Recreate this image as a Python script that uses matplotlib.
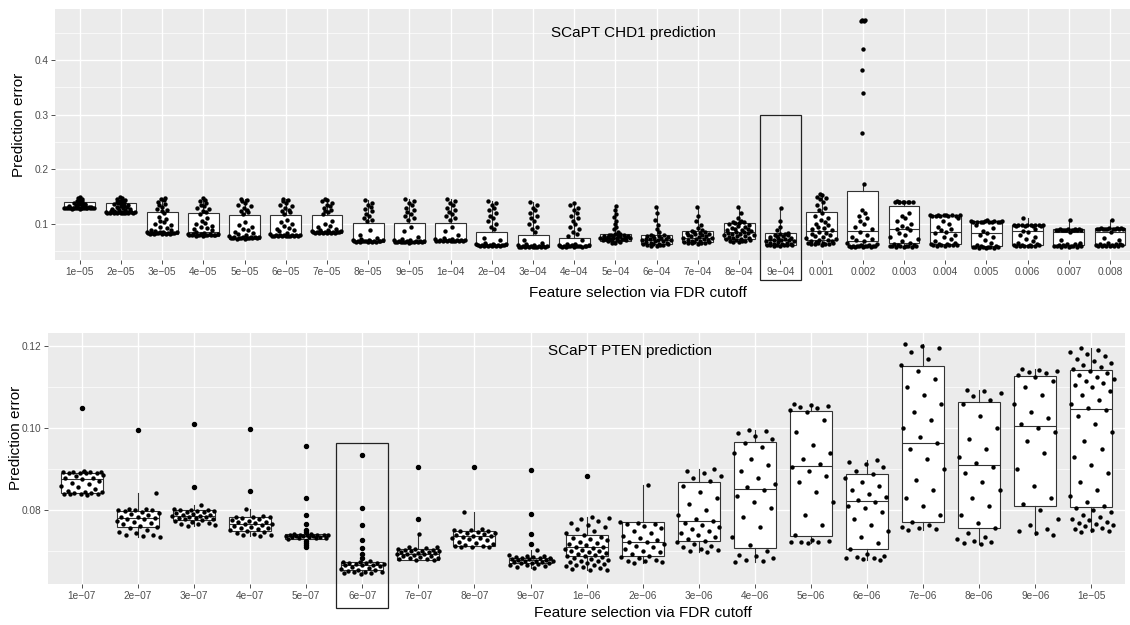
import numpy as np
import matplotlib
matplotlib.use('Agg')
import matplotlib.pyplot as plt
from matplotlib.patches import Rectangle

plt.rcParams['font.family'] = ['Liberation Sans', 'DejaVu Sans']

# ---- top panel: SCaPT CHD1 ----
top_labels = ['1e\u221205', '2e\u221205', '3e\u221205', '4e\u221205', '5e\u221205', '6e\u221205', '7e\u221205',
              '8e\u221205', '9e\u221205', '1e\u221204', '2e\u221204', '3e\u221204', '4e\u221204', '5e\u221204',
              '6e\u221204', '7e\u221204', '8e\u221204', '9e\u221204', '0.001', '0.002', '0.003', '0.004',
              '0.005', '0.006', '0.007', '0.008']
top_q1 = [.1287, .1196, .0815, .0780, .0730, .0770, .0830, .0677, .0660, .0680, .0600, .0574, .0585,
          .0695, .0634, .0677, .0720, .0616, .0707, .0680, .0647, .0630, .0600, .0616, .0616, .0616]
top_med = [.1305, .1225, .0845, .0855, .0750, .0790, .0860, .0690, .0690, .0700, .0620, .0590, .0600,
           .0750, .0710, .0750, .0850, .0700, .0878, .0872, .0900, .0854, .0830, .0870, .0850, .0850]
top_q3 = [.1405, .1378, .1214, .1196, .1165, .1165, .1168, .1024, .1010, .1010, .0860, .0800, .0750,
          .0810, .0790, .0870, .1020, .0830, .1214, .1610, .1330, .1165, .1055, .0980, .0900, .0920]
top_lo = [.1280, .1195, .0815, .0785, .0730, .0770, .0830, .0670, .0660, .0680, .0595, .0570, .0580,
          .0650, .0600, .0640, .0670, .0600, .0620, .0580, .0580, .0600, .0560, .0590, .0580, .0590]
top_hi = [.1490, .1488, .1480, .1470, .1460, .1460, .1460, .1430, .1450, .1450, .1420, .1400, .1380,
          .1335, .1317, .1310, .1310, .1287, .1540, .1730, .1410, .1165, .1075, .1100, .1070, .1065]
top_points = [
    [0.1280, 0.1281, 0.1282, 0.1283, 0.1284, 0.1285, 0.1286, 0.1287, 0.1288, 0.1289, 0.1290, 0.1291, 0.1292,
     0.1293, 0.1294, 0.1295, 0.1297, 0.1299, 0.1301, 0.1303, 0.1306, 0.1310, 0.1315, 0.1320, 0.1328, 0.1335,
     0.1343, 0.1350, 0.1358, 0.1365, 0.1373, 0.1380, 0.1390, 0.1400, 0.1410, 0.1420, 0.1432, 0.1445, 0.1460,
     0.1475, 0.1490],
    [0.1195, 0.1197, 0.1199, 0.1200, 0.1202, 0.1203, 0.1205, 0.1206, 0.1208, 0.1210, 0.1212, 0.1214, 0.1216,
     0.1218, 0.1220, 0.1223, 0.1226, 0.1230, 0.1236, 0.1242, 0.1250, 0.1258, 0.1266, 0.1275, 0.1285, 0.1295,
     0.1305, 0.1315, 0.1325, 0.1335, 0.1345, 0.1355, 0.1365, 0.1375, 0.1385, 0.1395, 0.1410, 0.1425, 0.1440,
     0.1455, 0.1470, 0.1488],
    [0.0815, 0.0818, 0.0820, 0.0822, 0.0824, 0.0826, 0.0828, 0.0830, 0.0832, 0.0834, 0.0836, 0.0838, 0.0840,
     0.0843, 0.0846, 0.0850, 0.0856, 0.0865, 0.0880, 0.0895, 0.0925, 0.0950, 0.0975, 0.1000, 0.1030, 0.1060,
     0.1090, 0.1120, 0.1200, 0.1230, 0.1260, 0.1280, 0.1310, 0.1340, 0.1370, 0.1400, 0.1430, 0.1460, 0.1480],
    [0.0785, 0.0788, 0.0790, 0.0792, 0.0794, 0.0796, 0.0798, 0.0800, 0.0802, 0.0804, 0.0806, 0.0808, 0.0810,
     0.0813, 0.0816, 0.0820, 0.0830, 0.0850, 0.0880, 0.0900, 0.0920, 0.0940, 0.0960, 0.0990, 0.1020, 0.1060,
     0.1100, 0.1180, 0.1210, 0.1240, 0.1270, 0.1290, 0.1320, 0.1350, 0.1380, 0.1410, 0.1440, 0.1470],
    [0.0730, 0.0733, 0.0736, 0.0738, 0.0740, 0.0742, 0.0744, 0.0746, 0.0748, 0.0750, 0.0752, 0.0754, 0.0757,
     0.0760, 0.0765, 0.0775, 0.0790, 0.0810, 0.0830, 0.0850, 0.0880, 0.0910, 0.0940, 0.0980, 0.1040, 0.1180,
     0.1210, 0.1240, 0.1260, 0.1290, 0.1320, 0.1350, 0.1380, 0.1410, 0.1440, 0.1460],
    [0.0770, 0.0773, 0.0776, 0.0778, 0.0780, 0.0782, 0.0784, 0.0786, 0.0788, 0.0790, 0.0792, 0.0794, 0.0797,
     0.0800, 0.0805, 0.0815, 0.0840, 0.0870, 0.0890, 0.0910, 0.0930, 0.0960, 0.0990, 0.1030, 0.1080, 0.1180,
     0.1210, 0.1240, 0.1260, 0.1290, 0.1320, 0.1350, 0.1380, 0.1410, 0.1440, 0.1460],
    [0.0830, 0.0833, 0.0836, 0.0838, 0.0840, 0.0842, 0.0844, 0.0846, 0.0848, 0.0850, 0.0852, 0.0855, 0.0858,
     0.0861, 0.0865, 0.0872, 0.0880, 0.0890, 0.0910, 0.0940, 0.0970, 0.1000, 0.1050, 0.1180, 0.1210, 0.1240,
     0.1260, 0.1290, 0.1320, 0.1350, 0.1380, 0.1410, 0.1440, 0.1460],
    [0.0670, 0.0672, 0.0674, 0.0676, 0.0678, 0.0680, 0.0682, 0.0684, 0.0686, 0.0688, 0.0690, 0.0692, 0.0694,
     0.0696, 0.0698, 0.0700, 0.0705, 0.0720, 0.0750, 0.0800, 0.0890, 0.1050, 0.1080, 0.1110, 0.1150, 0.1190,
     0.1230, 0.1270, 0.1310, 0.1350, 0.1390, 0.1430],
    [0.0660, 0.0662, 0.0664, 0.0666, 0.0668, 0.0670, 0.0672, 0.0674, 0.0676, 0.0678, 0.0680, 0.0683, 0.0686,
     0.0690, 0.0694, 0.0698, 0.0705, 0.0720, 0.0760, 0.0870, 0.0950, 0.1080, 0.1110, 0.1150, 0.1190, 0.1220,
     0.1260, 0.1300, 0.1340, 0.1380, 0.1420, 0.1450],
    [0.0680, 0.0682, 0.0684, 0.0686, 0.0688, 0.0690, 0.0692, 0.0694, 0.0696, 0.0698, 0.0700, 0.0703, 0.0706,
     0.0710, 0.0714, 0.0720, 0.0730, 0.0750, 0.0800, 0.0870, 0.0950, 0.1080, 0.1110, 0.1150, 0.1190, 0.1220,
     0.1260, 0.1300, 0.1340, 0.1380, 0.1420, 0.1450],
    [0.0595, 0.0597, 0.0599, 0.0601, 0.0603, 0.0605, 0.0607, 0.0609, 0.0611, 0.0613, 0.0615, 0.0617, 0.0620,
     0.0623, 0.0627, 0.0632, 0.0640, 0.0660, 0.0700, 0.0750, 0.0900, 0.0950, 0.1000, 0.1050, 0.1100, 0.1150,
     0.1200, 0.1250, 0.1300, 0.1350, 0.1390, 0.1420],
    [0.0570, 0.0572, 0.0574, 0.0576, 0.0578, 0.0580, 0.0582, 0.0584, 0.0586, 0.0588, 0.0590, 0.0592, 0.0595,
     0.0598, 0.0602, 0.0608, 0.0615, 0.0630, 0.0660, 0.0700, 0.0850, 0.0900, 0.0950, 0.1000, 0.1050, 0.1100,
     0.1150, 0.1200, 0.1250, 0.1300, 0.1350, 0.1400],
    [0.0580, 0.0582, 0.0584, 0.0586, 0.0588, 0.0590, 0.0592, 0.0594, 0.0596, 0.0598, 0.0600, 0.0602, 0.0605,
     0.0608, 0.0612, 0.0618, 0.0625, 0.0640, 0.0700, 0.0780, 0.0820, 0.0860, 0.0900, 0.0950, 0.1000, 0.1050,
     0.1100, 0.1150, 0.1200, 0.1250, 0.1300, 0.1340, 0.1380],
    [0.0650, 0.0660, 0.0670, 0.0680, 0.0690, 0.0695, 0.0700, 0.0705, 0.0710, 0.0715, 0.0720, 0.0725, 0.0730,
     0.0735, 0.0740, 0.0745, 0.0750, 0.0755, 0.0760, 0.0765, 0.0770, 0.0775, 0.0780, 0.0785, 0.0790, 0.0795,
     0.0800, 0.0805, 0.0810, 0.0820, 0.0860, 0.0900, 0.0950, 0.1000, 0.1060, 0.1120, 0.1180, 0.1250, 0.1335],
    [0.0600, 0.0605, 0.0610, 0.0615, 0.0620, 0.0625, 0.0630, 0.0635, 0.0640, 0.0650, 0.0660, 0.0670, 0.0680,
     0.0690, 0.0700, 0.0705, 0.0710, 0.0715, 0.0720, 0.0730, 0.0740, 0.0750, 0.0760, 0.0770, 0.0780, 0.0785,
     0.0790, 0.0800, 0.0850, 0.0900, 0.0980, 0.1080, 0.1200, 0.1317],
    [0.0640, 0.0645, 0.0650, 0.0655, 0.0660, 0.0665, 0.0670, 0.0675, 0.0680, 0.0690, 0.0700, 0.0710, 0.0720,
     0.0730, 0.0740, 0.0750, 0.0760, 0.0770, 0.0780, 0.0790, 0.0800, 0.0810, 0.0820, 0.0830, 0.0840, 0.0850,
     0.0860, 0.0870, 0.0880, 0.0920, 0.0980, 0.1050, 0.1150, 0.1310],
    [0.0670, 0.0675, 0.0680, 0.0685, 0.0690, 0.0700, 0.0710, 0.0720, 0.0730, 0.0740, 0.0750, 0.0760, 0.0770,
     0.0780, 0.0790, 0.0800, 0.0810, 0.0820, 0.0830, 0.0840, 0.0850, 0.0860, 0.0870, 0.0880, 0.0890, 0.0900,
     0.0910, 0.0920, 0.0940, 0.0960, 0.0980, 0.1000, 0.1010, 0.1020, 0.1030, 0.1040, 0.1050, 0.1100, 0.1200,
     0.1310],
    [0.0600, 0.0603, 0.0606, 0.0609, 0.0612, 0.0615, 0.0618, 0.0621, 0.0625, 0.0630, 0.0640, 0.0650, 0.0660,
     0.0670, 0.0680, 0.0690, 0.0700, 0.0705, 0.0710, 0.0720, 0.0730, 0.0740, 0.0750, 0.0760, 0.0770, 0.0780,
     0.0790, 0.0800, 0.0810, 0.0820, 0.0830, 0.0880, 0.0950, 0.1050, 0.1287],
    [0.0620, 0.0625, 0.0630, 0.0635, 0.0640, 0.0645, 0.0650, 0.0655, 0.0660, 0.0670, 0.0680, 0.0690, 0.0700,
     0.0710, 0.0720, 0.0740, 0.0760, 0.0780, 0.0800, 0.0820, 0.0840, 0.0860, 0.0880, 0.0900, 0.0920, 0.0950,
     0.0980, 0.1000, 0.1030, 0.1070, 0.1110, 0.1150, 0.1200, 0.1250, 0.1300, 0.1350, 0.1400, 0.1450, 0.1480,
     0.1500, 0.1520, 0.1540],
    [0.0580, 0.0582, 0.0584, 0.0586, 0.0588, 0.0590, 0.0592, 0.0594, 0.0596, 0.0598, 0.0600, 0.0605, 0.0610,
     0.0620, 0.0640, 0.0660, 0.0680, 0.0700, 0.0720, 0.0760, 0.0800, 0.0850, 0.0900, 0.0950, 0.1000, 0.1050,
     0.1100, 0.1150, 0.1200, 0.1250, 0.1730, 0.2660, 0.3400, 0.3820, 0.4200, 0.4715, 0.4718, 0.4720, 0.4722],
    [0.0580, 0.0583, 0.0586, 0.0589, 0.0592, 0.0595, 0.0598, 0.0601, 0.0605, 0.0610, 0.0620, 0.0635, 0.0650,
     0.0680, 0.0720, 0.0760, 0.0800, 0.0840, 0.0880, 0.0900, 0.0920, 0.0960, 0.1000, 0.1050, 0.1100, 0.1150,
     0.1200, 0.1400, 0.1402, 0.1403, 0.1404, 0.1405, 0.1406, 0.1407, 0.1408, 0.1410],
    [0.0600, 0.0603, 0.0606, 0.0609, 0.0612, 0.0615, 0.0620, 0.0625, 0.0630, 0.0640, 0.0660, 0.0690, 0.0720,
     0.0760, 0.0800, 0.0830, 0.0855, 0.0880, 0.0910, 0.0950, 0.1000, 0.1050, 0.1100, 0.1140, 0.1145, 0.1148,
     0.1150, 0.1152, 0.1154, 0.1156, 0.1158, 0.1160, 0.1162, 0.1165],
    [0.0560, 0.0563, 0.0566, 0.0569, 0.0572, 0.0575, 0.0578, 0.0581, 0.0585, 0.0590, 0.0600, 0.0620, 0.0660,
     0.0700, 0.0760, 0.0800, 0.0830, 0.0870, 0.0920, 0.0980, 0.1030, 0.1032, 0.1034, 0.1036, 0.1038, 0.1040,
     0.1042, 0.1044, 0.1046, 0.1048, 0.1050, 0.1052, 0.1075],
    [0.0590, 0.0593, 0.0596, 0.0599, 0.0602, 0.0605, 0.0608, 0.0611, 0.0615, 0.0620, 0.0630, 0.0650, 0.0680,
     0.0720, 0.0760, 0.0800, 0.0850, 0.0870, 0.0900, 0.0960, 0.0965, 0.0968, 0.0970, 0.0972, 0.0974, 0.0976,
     0.0978, 0.0980, 0.0982, 0.0984, 0.0986, 0.1100],
    [0.0580, 0.0583, 0.0586, 0.0589, 0.0592, 0.0595, 0.0598, 0.0601, 0.0605, 0.0610, 0.0615, 0.0620, 0.0630,
     0.0640, 0.0660, 0.0700, 0.0850, 0.0880, 0.0883, 0.0885, 0.0887, 0.0889, 0.0891, 0.0893, 0.0895, 0.0897,
     0.0899, 0.0901, 0.0903, 0.0905, 0.1070],
    [0.0590, 0.0593, 0.0596, 0.0599, 0.0602, 0.0605, 0.0608, 0.0611, 0.0615, 0.0620, 0.0625, 0.0630, 0.0640,
     0.0660, 0.0700, 0.0750, 0.0850, 0.0900, 0.0902, 0.0904, 0.0906, 0.0908, 0.0910, 0.0912, 0.0914, 0.0916,
     0.0918, 0.0920, 0.0922, 0.0924, 0.1065],
]

# ---- bottom panel: SCaPT PTEN ----
bot_labels = ['1e\u221207', '2e\u221207', '3e\u221207', '4e\u221207', '5e\u221207', '6e\u221207', '7e\u221207',
              '8e\u221207', '9e\u221207', '1e\u221206', '2e\u221206', '3e\u221206', '4e\u221206', '5e\u221206',
              '6e\u221206', '7e\u221206', '8e\u221206', '9e\u221206', '1e\u221205']
bot_q1 = [.0842, .0760, .0777, .0751, .0731, .06545, .0680, .0713, .0672, .0690, .0689, .0725, .0709,
          .0738, .0705, .0772, .0756, .0810, .0808]
bot_med = [.0877, .0781, .0786, .0767, .0737, .06667, .0694, .0737, .0679, .0711, .0723, .0775, .0853,
           .0908, .0822, .0965, .0911, .1006, .1046]
bot_q3 = [.0892, .0798, .0800, .0783, .0742, .06747, .0706, .0751, .0684, .0741, .0771, .0870, .0966,
          .1042, .0889, .1151, .1064, .1127, .1142]
bot_lo = [.0838, .0735, .0762, .0737, .0731, .0646, .0679, .0710, .0660, .0655, .0672, .0699, .0675,
          .0721, .0679, .0753, .0717, .0741, .0748]
bot_hi = [.0895, .0842, .0813, .0804, .0742, .0676, .0743, .0797, .0703, .0784, .0862, .0900, .0997,
          .1059, .0923, .1206, .1094, .1144, .1195]
bot_fliers = [[.105], [.0996], [.101, .0858], [.0998, .0848],
              [.0957, .0830, .0790, .0766, .0752, .0747, .0726, .0721, .0716, .0712],
              [.0935, .0805, .0765, .0727, .0708, .0695, .0684],
              [.0905, .0780], [.0905], [.0899, .0791, .0743, .0719], [.0885],
              [], [], [], [], [], [], [], [], []]
bot_points = [
    [0.0838, 0.0839, 0.0840, 0.0840, 0.0841, 0.0842, 0.0843, 0.0844, 0.0845, 0.0848, 0.0852, 0.0856, 0.0860,
     0.0864, 0.0868, 0.0872, 0.0876, 0.0878, 0.0880, 0.0883, 0.0887, 0.0890, 0.0891, 0.0892, 0.0892, 0.0893,
     0.0893, 0.0894, 0.0894, 0.0895],
    [0.0735, 0.0737, 0.0739, 0.0741, 0.0744, 0.0748, 0.0752, 0.0756, 0.0760, 0.0763, 0.0766, 0.0769, 0.0772,
     0.0775, 0.0778, 0.0780, 0.0781, 0.0783, 0.0785, 0.0788, 0.0791, 0.0794, 0.0797, 0.0799, 0.0800, 0.0801,
     0.0802, 0.0803, 0.0804, 0.0842],
    [0.0762, 0.0764, 0.0766, 0.0768, 0.0770, 0.0772, 0.0774, 0.0776, 0.0778, 0.0780, 0.0781, 0.0782, 0.0784,
     0.0785, 0.0786, 0.0787, 0.0788, 0.0790, 0.0792, 0.0794, 0.0796, 0.0797, 0.0798, 0.0799, 0.0800, 0.0801,
     0.0802, 0.0804, 0.0813],
    [0.0737, 0.0739, 0.0741, 0.0743, 0.0745, 0.0748, 0.0750, 0.0752, 0.0754, 0.0756, 0.0758, 0.0760, 0.0762,
     0.0764, 0.0766, 0.0767, 0.0769, 0.0771, 0.0773, 0.0775, 0.0777, 0.0779, 0.0781, 0.0783, 0.0784, 0.0785,
     0.0786, 0.0804],
    [0.0731, 0.0732, 0.0733, 0.0734, 0.0735, 0.0735, 0.0736, 0.0737, 0.0737, 0.0738, 0.0738, 0.0739, 0.0739,
     0.0740, 0.0740, 0.0741, 0.0741, 0.0742, 0.0742],
    [0.0646, 0.0647, 0.0648, 0.0649, 0.0650, 0.0651, 0.0652, 0.0654, 0.0656, 0.0658, 0.0660, 0.0662, 0.0664,
     0.0666, 0.0667, 0.0668, 0.0669, 0.0670, 0.0671, 0.0672, 0.0673, 0.0674, 0.0675, 0.0676],
    [0.0679, 0.0680, 0.0681, 0.0682, 0.0683, 0.0684, 0.0686, 0.0688, 0.0690, 0.0692, 0.0693, 0.0694, 0.0695,
     0.0696, 0.0697, 0.0698, 0.0699, 0.0700, 0.0701, 0.0702, 0.0703, 0.0704, 0.0705, 0.0706, 0.0708, 0.0710,
     0.0712, 0.0743],
    [0.0710, 0.0711, 0.0712, 0.0713, 0.0714, 0.0716, 0.0718, 0.0721, 0.0724, 0.0727, 0.0730, 0.0732, 0.0734,
     0.0736, 0.0737, 0.0738, 0.0740, 0.0742, 0.0744, 0.0746, 0.0748, 0.0750, 0.0751, 0.0752, 0.0753, 0.0754,
     0.0797],
    [0.0660, 0.0662, 0.0664, 0.0666, 0.0668, 0.0670, 0.0671, 0.0672, 0.0673, 0.0674, 0.0675, 0.0676, 0.0677,
     0.0678, 0.0679, 0.0680, 0.0681, 0.0682, 0.0683, 0.0684, 0.0685, 0.0686, 0.0687, 0.0688, 0.0689, 0.0691,
     0.0703],
    [0.0655, 0.0656, 0.0658, 0.0660, 0.0662, 0.0664, 0.0666, 0.0668, 0.0670, 0.0672, 0.0674, 0.0676, 0.0678,
     0.0680, 0.0682, 0.0684, 0.0686, 0.0688, 0.0690, 0.0692, 0.0694, 0.0696, 0.0698, 0.0700, 0.0702, 0.0704,
     0.0706, 0.0708, 0.0710, 0.0712, 0.0715, 0.0718, 0.0721, 0.0724, 0.0727, 0.0730, 0.0733, 0.0736, 0.0740,
     0.0745, 0.0750, 0.0755, 0.0760, 0.0765, 0.0770, 0.0774, 0.0778, 0.0781, 0.0784],
    [0.0672, 0.0674, 0.0676, 0.0678, 0.0680, 0.0683, 0.0686, 0.0690, 0.0694, 0.0698, 0.0702, 0.0706, 0.0710,
     0.0714, 0.0718, 0.0722, 0.0724, 0.0728, 0.0733, 0.0738, 0.0744, 0.0750, 0.0756, 0.0762, 0.0766, 0.0768,
     0.0770, 0.0772, 0.0862],
    [0.0699, 0.0701, 0.0703, 0.0706, 0.0710, 0.0714, 0.0718, 0.0722, 0.0726, 0.0730, 0.0735, 0.0740, 0.0745,
     0.0750, 0.0755, 0.0760, 0.0765, 0.0770, 0.0775, 0.0780, 0.0790, 0.0800, 0.0815, 0.0830, 0.0845, 0.0860,
     0.0872, 0.0880, 0.0885, 0.0890, 0.0895, 0.0900],
    [0.0675, 0.0677, 0.0680, 0.0684, 0.0688, 0.0692, 0.0700, 0.0715, 0.0735, 0.0760, 0.0785, 0.0805, 0.0820,
     0.0835, 0.0850, 0.0856, 0.0865, 0.0880, 0.0895, 0.0910, 0.0925, 0.0940, 0.0955, 0.0965, 0.0975, 0.0982,
     0.0988, 0.0993, 0.0997],
    [0.0721, 0.0722, 0.0723, 0.0724, 0.0725, 0.0727, 0.0740, 0.0765, 0.0790, 0.0820, 0.0845, 0.0870, 0.0885,
     0.0895, 0.0905, 0.0912, 0.0925, 0.0940, 0.0960, 0.0990, 0.1020, 0.1040, 0.1045, 0.1050, 0.1053, 0.1055,
     0.1057, 0.1059],
    [0.0679, 0.0681, 0.0683, 0.0685, 0.0687, 0.0690, 0.0695, 0.0705, 0.0720, 0.0735, 0.0750, 0.0765, 0.0780,
     0.0795, 0.0805, 0.0812, 0.0820, 0.0826, 0.0832, 0.0840, 0.0850, 0.0860, 0.0870, 0.0880, 0.0888, 0.0895,
     0.0905, 0.0912, 0.0918, 0.0923],
    [0.0753, 0.0755, 0.0757, 0.0760, 0.0765, 0.0772, 0.0790, 0.0810, 0.0830, 0.0850, 0.0875, 0.0900, 0.0925,
     0.0950, 0.0965, 0.0980, 0.1000, 0.1020, 0.1040, 0.1060, 0.1080, 0.1100, 0.1120, 0.1140, 0.1155, 0.1170,
     0.1185, 0.1195, 0.1200, 0.1206],
    [0.0717, 0.0720, 0.0723, 0.0726, 0.0730, 0.0735, 0.0745, 0.0757, 0.0770, 0.0790, 0.0810, 0.0830, 0.0850,
     0.0870, 0.0890, 0.0905, 0.0915, 0.0930, 0.0950, 0.0975, 0.1000, 0.1030, 0.1060, 0.1070, 0.1078, 0.1085,
     0.1090, 0.1094],
    [0.0741, 0.0745, 0.0750, 0.0755, 0.0765, 0.0780, 0.0800, 0.0815, 0.0830, 0.0860, 0.0900, 0.0940, 0.0970,
     0.0990, 0.1000, 0.1010, 0.1025, 0.1040, 0.1060, 0.1080, 0.1100, 0.1115, 0.1125, 0.1130, 0.1135, 0.1138,
     0.1140, 0.1142, 0.1144],
    [0.0748, 0.0750, 0.0752, 0.0755, 0.0758, 0.0761, 0.0764, 0.0767, 0.0770, 0.0773, 0.0776, 0.0780, 0.0785,
     0.0790, 0.0795, 0.0800, 0.0805, 0.0812, 0.0820, 0.0835, 0.0850, 0.0870, 0.0890, 0.0910, 0.0930, 0.0950,
     0.0970, 0.0990, 0.1010, 0.1030, 0.1045, 0.1050, 0.1060, 0.1070, 0.1080, 0.1090, 0.1100, 0.1105, 0.1110,
     0.1115, 0.1120, 0.1125, 0.1130, 0.1135, 0.1140, 0.1145, 0.1150, 0.1155, 0.1160, 0.1165, 0.1170, 0.1175,
     0.1180, 0.1185, 0.1190, 0.1195],
]


def van_der_corput(n):
    # base-2 low discrepancy sequence in [0, 1)
    out = []
    for k in range(1, n + 1):
        v, denom = 0.0, 1.0
        while k:
            denom *= 2
            k, r = divmod(k, 2)
            v += r / denom
        out.append(v)
    return np.array(out)


def quasirandom_offsets(vals, width=0.4):
    # spread points sideways in proportion to local density (like ggbeeswarm::geom_quasirandom)
    y = np.asarray(vals, dtype=float)
    n = len(y)
    sd = y.std(ddof=1)
    iqr = np.subtract(*np.percentile(y, [75, 25]))
    bw = 0.9 * min(sd, iqr / 1.34) * n ** -0.2
    if bw <= 0:
        bw = 0.9 * sd * n ** -0.2
    dens = np.exp(-0.5 * ((y[:, None] - y[None, :]) / bw) ** 2).sum(axis=1)
    dens = dens / dens.max()
    q = np.empty(n)
    q[np.argsort(y, kind='stable')] = van_der_corput(n)
    return width * dens * (2 * q - 1)


def jitter_offsets(n, seed_shift, width=0.4):
    # deterministic even spread (golden ratio sequence) instead of random jitter
    u = (np.arange(1, n + 1) * 0.6180339887 + seed_shift) % 1.0
    return width * (2 * u - 1)


def style_panel(ax, labels):
    ax.set_facecolor('#EBEBEB')
    for s in ax.spines.values():
        s.set_visible(False)
    ax.set_xticks(range(len(labels)))
    ax.set_xticklabels(labels)
    ax.tick_params(axis='both', which='major', length=2.8, width=0.6, color='#333333',
                   labelcolor='#4D4D4D', labelsize=7.3, pad=2)
    ax.tick_params(axis='both', which='minor', length=0)
    ax.grid(True, which='major', color='white', linewidth=1.0)
    ax.grid(True, which='minor', axis='y', color='white', linewidth=0.5)
    ax.set_axisbelow(True)


def draw_boxes(ax, q1, med, q3, lo, hi, fliers):
    stats = []
    for i in range(len(q1)):
        stats.append({'q1': q1[i], 'med': med[i], 'q3': q3[i], 'whislo': lo[i], 'whishi': hi[i],
                      'fliers': fliers[i] if fliers is not None else []})
    ax.bxp(stats, positions=range(len(q1)), widths=0.75, patch_artist=True, showcaps=False,
           showfliers=fliers is not None, manage_ticks=False,
           boxprops=dict(facecolor='white', edgecolor='#333333', linewidth=0.8),
           medianprops=dict(color='#333333', linewidth=0.8),
           whiskerprops=dict(color='#333333', linewidth=0.8),
           flierprops=dict(marker='o', markerfacecolor='black', markeredgecolor='black', markersize=2.9),
           zorder=2)


fig = plt.figure(figsize=(11.3, 6.25), dpi=100)

# top panel
ax1 = fig.add_axes([0.0487, 0.584, 0.9555, 0.4016])
draw_boxes(ax1, top_q1, top_med, top_q3, top_lo, top_hi, None)
for i, vals in enumerate(top_points):
    xo = quasirandom_offsets(vals)
    ax1.scatter(i + xo, vals, s=10, color='black', linewidths=0, zorder=3)
style_panel(ax1, top_labels)
ax1.set_xlim(-0.6, 25.6)
ax1.set_ylim(0.034, 0.493)
ax1.set_yticks([0.1, 0.2, 0.3, 0.4])
ax1.set_yticklabels(['0.1', '0.2', '0.3', '0.4'])
ax1.set_yticks([0.05, 0.15, 0.25, 0.35, 0.45], minor=True)
ax1.text(0.536, 0.904, 'SCaPT CHD1 prediction', transform=ax1.transAxes, ha='center', va='center',
         fontsize=11, color='black')
ax1.add_patch(Rectangle((16.5, -0.0025), 1.0, 0.3025, fill=False, edgecolor='#222222',
                        linewidth=0.9, clip_on=False, zorder=5))

# bottom panel
ax2 = fig.add_axes([0.0427, 0.0651, 0.9528, 0.4026])
draw_boxes(ax2, bot_q1, bot_med, bot_q3, bot_lo, bot_hi, bot_fliers)
for i, vals in enumerate(bot_points):
    xo = jitter_offsets(len(vals), 0.37 * i)
    ax2.scatter(i + xo, vals, s=10, color='black', linewidths=0, zorder=3)
style_panel(ax2, bot_labels)
ax2.set_xlim(-0.6, 18.6)
ax2.set_ylim(0.0620, 0.1233)
ax2.set_yticks([0.08, 0.10, 0.12])
ax2.set_yticklabels(['0.08', '0.10', '0.12'])
ax2.set_yticks([0.07, 0.09, 0.11], minor=True)
ax2.text(0.540, 0.927, 'SCaPT PTEN prediction', transform=ax2.transAxes, ha='center', va='center',
         fontsize=11, color='black')
ax2.add_patch(Rectangle((4.54, 0.0563), 0.92, 0.0402, fill=False, edgecolor='#222222',
                        linewidth=0.9, clip_on=False, zorder=5))

# axis titles
fig.text(19 / 1130, 1 - 124.5 / 625, 'Prediction error', rotation=90, ha='center', va='center', fontsize=11)
fig.text(16 / 1130, 1 - 438 / 625, 'Prediction error', rotation=90, ha='center', va='center', fontsize=11)
fig.text(638 / 1130, 1 - 293 / 625, 'Feature selection via FDR cutoff', ha='center', va='center', fontsize=11)
fig.text(643 / 1130, 1 - 613 / 625, 'Feature selection via FDR cutoff', ha='center', va='center', fontsize=11)

fig.savefig('out.png', dpi=100, facecolor='white')
